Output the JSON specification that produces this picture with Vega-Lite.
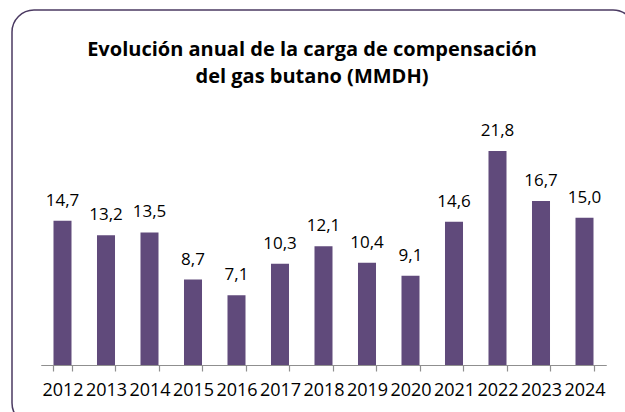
{
  "$schema": "https://vega.github.io/schema/vega-lite/v6.json",
  "width": 623,
  "height": 415,
  "autosize": {"type": "none"},
  "padding": {"left": 12, "top": 10, "right": 0, "bottom": 0},
  "background": "white",
  "title": {
    "text": ["Evolución anual de la carga de compensación", "del gas butano (MMDH)"],
    "anchor": "middle",
    "frame": "group",
    "orient": "top",
    "baseline": "bottom",
    "offset": -80,
    "dx": -11.5,
    "dy": 17,
    "font": "Open Sans",
    "fontSize": 20,
    "fontWeight": "bold",
    "lineHeight": 27,
    "color": "#000000"
  },
  "data": {
    "values": [
      {"year": "2012", "value": 14.7},
      {"year": "2013", "value": 13.2},
      {"year": "2014", "value": 13.5},
      {"year": "2015", "value": 8.7},
      {"year": "2016", "value": 7.1},
      {"year": "2017", "value": 10.3},
      {"year": "2018", "value": 12.1},
      {"year": "2019", "value": 10.4},
      {"year": "2020", "value": 9.1},
      {"year": "2021", "value": 14.6},
      {"year": "2022", "value": 21.8},
      {"year": "2023", "value": 16.7},
      {"year": "2024", "value": 15.0}
    ]
  },
  "encoding": {
    "x": {
      "field": "year",
      "type": "ordinal",
      "sort": null,
      "scale": {"range": [28.75, 594.25], "paddingInner": 0.586, "paddingOuter": 0.293},
      "axis": {
        "title": null,
        "offset": -60,
        "zindex": 1,
        "labelAngle": 0,
        "domain": true,
        "domainColor": "#8f8f8f",
        "domainWidth": 1.2,
        "ticks": true,
        "tickColor": "#8f8f8f",
        "tickWidth": 1.2,
        "tickSize": 6,
        "tickBand": "extent",
        "labelFont": "Open Sans",
        "labelFontSize": 18,
        "labelColor": "#000000",
        "labelPadding": 10,
        "grid": false
      }
    },
    "y": {
      "field": "value",
      "type": "quantitative",
      "scale": {"domain": [0, 36.15], "range": [355, 0]},
      "axis": null
    }
  },
  "layer": [
    {"mark": {"type": "bar", "color": "#604a7b"}},
    {
      "mark": {"type": "text", "baseline": "alphabetic", "dy": -15, "font": "Open Sans", "fontSize": 17, "color": "#000000"},
      "encoding": {"text": {"field": "value", "type": "quantitative", "format": ".1f"}}
    }
  ],
  "config": {
    "locale": {"number": {"decimal": ",", "thousands": ".", "grouping": [3], "currency": ["", " €"]}},
    "view": {"stroke": "#4b3a62", "strokeWidth": 1.5, "cornerRadius": 22}
  }
}
